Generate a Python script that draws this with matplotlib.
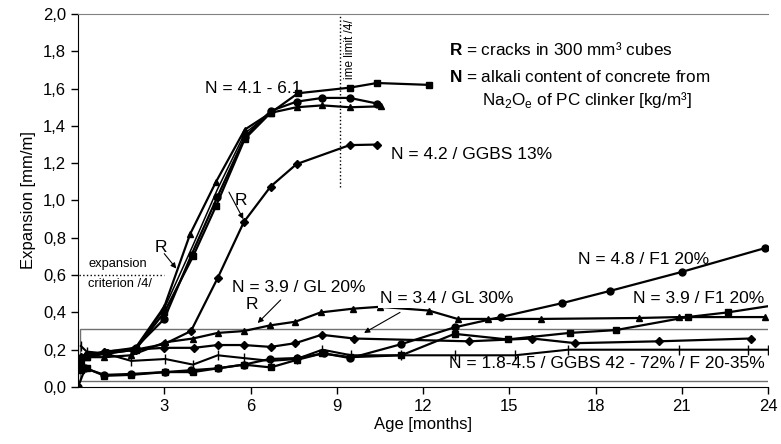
import matplotlib
matplotlib.use("Agg")
import matplotlib.pyplot as plt
from matplotlib.patches import Rectangle
from matplotlib.ticker import FuncFormatter

plt.rcParams['font.family'] = ['Liberation Sans', 'DejaVu Sans']
plt.rcParams['mathtext.fontset'] = 'custom'
plt.rcParams['mathtext.rm'] = 'Liberation Sans'
plt.rcParams['mathtext.bf'] = 'Liberation Sans:bold'

# --- upper group: N = 4.1 - 6.1 ---
sq_hi_x = [0.1, 0.3, 1.0, 2.0, 3.0, 4.0, 4.8, 5.8, 6.7, 7.65, 9.45, 10.4, 12.2]
sq_hi_y = [0.12, 0.16, 0.18, 0.20, 0.40, 0.70, 0.97, 1.33, 1.47, 1.575, 1.605, 1.63, 1.62]
ci_hi_x = [0.1, 0.3, 1.0, 2.0, 3.0, 3.95, 4.85, 5.8, 6.7, 7.6, 8.5, 9.45, 10.4]
ci_hi_y = [0.15, 0.17, 0.18, 0.21, 0.365, 0.71, 1.02, 1.34, 1.48, 1.53, 1.55, 1.55, 1.52]
tr_hi_x = [0.1, 0.3, 1.0, 2.0, 3.0, 3.9, 4.8, 5.8, 6.7, 7.6, 8.5, 9.45, 10.55]
tr_hi_y = [0.14, 0.17, 0.19, 0.21, 0.43, 0.82, 1.10, 1.38, 1.47, 1.50, 1.51, 1.50, 1.505]
thin_hi_x = [2.0, 3.0, 4.0, 4.85, 5.8, 6.7]
thin_hi_y = [0.20, 0.42, 0.76, 1.06, 1.36, 1.47]

# N = 4.2 / GGBS 13%
ggbs13_x = [0.1, 0.3, 1.0, 2.0, 3.0, 3.93, 4.86, 5.77, 6.7, 7.6, 9.45, 10.4]
ggbs13_y = [0.15, 0.17, 0.18, 0.20, 0.23, 0.30, 0.585, 0.885, 1.075, 1.195, 1.297, 1.30]

# --- lower group ---
gl20_x = [0.1, 0.3, 0.92, 1.85, 3.04, 4.0, 4.86, 5.77, 6.67, 7.56, 8.44, 9.57, 10.5,
          12.2, 13.2, 14.26, 16.1, 19.5, 20.9, 23.9]
gl20_y = [0.12, 0.16, 0.16, 0.17, 0.24, 0.26, 0.29, 0.30, 0.33, 0.35, 0.40, 0.42, 0.43,
          0.41, 0.365, 0.365, 0.365, 0.37, 0.375, 0.375]
gl30_x = [0.1, 0.3, 0.92, 1.9, 3.0, 4.03, 4.86, 5.77, 6.7, 7.56, 8.47, 9.6,
          13.6, 15.8, 17.3, 20.2, 23.4]
gl30_y = [0.16, 0.17, 0.19, 0.20, 0.21, 0.21, 0.225, 0.225, 0.215, 0.235, 0.28, 0.26,
          0.245, 0.26, 0.235, 0.245, 0.26]
f48_x = [0, 0.25, 0.92, 1.85, 3.04, 3.93, 4.86, 5.77, 6.67, 7.6, 8.55, 9.47,
         11.25, 13.1, 14.7, 16.85, 18.5, 21.0, 23.9]
f48_y = [0.0, 0.10, 0.065, 0.07, 0.08, 0.09, 0.10, 0.12, 0.15, 0.155, 0.18, 0.155,
         0.23, 0.32, 0.375, 0.45, 0.515, 0.617, 0.745]
f39_x = [0.1, 0.3, 0.92, 1.85, 3.04, 4.0, 4.86, 5.77, 6.7, 7.6, 8.5, 9.47,
         11.25, 13.1, 14.94, 17.1, 18.7, 21.2, 22.6, 24.5]
f39_y = [0.09, 0.10, 0.06, 0.065, 0.08, 0.08, 0.10, 0.12, 0.105, 0.145, 0.18, 0.16,
         0.17, 0.285, 0.255, 0.29, 0.305, 0.375, 0.40, 0.445]
low_x = [0.1, 0.3, 0.95, 1.85, 3.04, 4.0, 4.86, 5.77, 6.7, 7.6, 8.5, 9.5,
         11.25, 13.1, 15.2, 17.05, 20.9, 23.3, 24.0]
low_y = [0.22, 0.19, 0.18, 0.14, 0.15, 0.12, 0.17, 0.155, 0.14, 0.15, 0.20, 0.17,
         0.17, 0.17, 0.17, 0.20, 0.20, 0.20, 0.20]

y_ticks = [0.0, 0.2, 0.4, 0.6, 0.8, 1.0, 1.2, 1.4, 1.6, 1.8, 2.0]
x_ticks = [3, 6, 9, 12, 15, 18, 21, 24]

fig = plt.figure(figsize=(7.81, 4.44), dpi=100)
ax = fig.add_axes([78 / 781, 1 - 387 / 444, 690 / 781, 373 / 444])
ax.set_xlim(0, 24)
ax.set_ylim(0, 2.0)

# box around low-expansion group
ax.add_patch(Rectangle((0.07, 0.03), 25, 0.28, fill=False, edgecolor='#707070', lw=1.0,
                       zorder=1, clip_on=True))

kw = dict(color='black', lw=1.6, ms=5, zorder=3)
ax.plot(sq_hi_x, sq_hi_y, marker='s', **kw)
ax.plot(ci_hi_x, ci_hi_y, marker='o', **kw)
ax.plot(tr_hi_x, tr_hi_y, marker='^', **kw)
ax.plot(thin_hi_x, thin_hi_y, color='black', lw=1.1, zorder=3)
ax.plot(ggbs13_x, ggbs13_y, marker='D', color='black', lw=1.6, ms=4.2, zorder=3)
ax.plot(gl20_x, gl20_y, marker='^', **kw)
ax.plot(gl30_x, gl30_y, marker='D', color='black', lw=1.6, ms=4.2, zorder=3)
ax.plot(f48_x, f48_y, marker='o', **kw)
ax.plot(f39_x, f39_y, marker='s', **kw)
ax.plot(low_x, low_y, marker='|', color='black', lw=1.5, ms=7, mew=1.0, zorder=3)

# limits
ax.plot([9.1, 9.1], [1.07, 2.0], color='black', lw=1.0, ls=':')
ax.text(9.25, 1.97, 'ime limit /4/', rotation=90, ha='left', va='top', fontsize=8.5)
ax.plot([0.05, 3.0], [0.6, 0.6], color='black', lw=1.0, ls=':')
ax.text(0.35, 0.625, 'expansion', fontsize=9.3, va='bottom')
ax.text(0.35, 0.585, 'criterion /4/', fontsize=9.3, va='top')

lab = 12.5
ax.text(6.1, 1.60, 'N = 4.1 - 6.1', fontsize=lab, ha='center', va='center')
ax.text(10.9, 1.245, 'N = 4.2 / GGBS 13%', fontsize=lab, va='center')
ax.text(5.35, 0.535, 'N = 3.9 / GL 20%', fontsize=lab, va='center')
ax.text(10.5, 0.477, 'N = 3.4 / GL 30%', fontsize=lab, va='center', zorder=4,
        bbox=dict(facecolor='white', edgecolor='none', pad=1.5))
ax.text(17.4, 0.686, 'N = 4.8 / F1 20%', fontsize=lab, va='center')
ax.text(19.3, 0.477, 'N = 3.9 / F1 20%', fontsize=lab, va='center')
ax.text(12.9, 0.128, 'N = 1.8-4.5 / GGBS 42 - 72% / F 20-35%', fontsize=lab, va='center')

ax.text(12.9, 1.807, r'$\mathbf{R}$ = cracks in 300 mm³ cubes', fontsize=12.3, va='center')
ax.text(12.9, 1.66, r'$\mathbf{N}$ = alkali content of concrete from', fontsize=12.3, va='center')
ax.text(14.05, 1.54, r'Na$_\mathrm{2}$O$_\mathrm{e}$ of PC clinker [kg/m³]', fontsize=12.3, va='center')

ap = dict(arrowstyle='-|>', color='black', lw=0.8, mutation_scale=8, shrinkA=0, shrinkB=0)
ax.text(2.87, 0.75, 'R', fontsize=lab, ha='center', va='center')
ax.annotate('', xy=(3.42, 0.635), xytext=(3.0, 0.715), arrowprops=ap)
ax.text(5.68, 1.0, 'R', fontsize=lab, ha='center', va='center')
ax.annotate('', xy=(5.75, 0.90), xytext=(5.25, 1.045), arrowprops=ap)
ax.text(6.05, 0.44, 'R', fontsize=lab, ha='center', va='center')
ax.annotate('', xy=(6.25, 0.343), xytext=(7.05, 0.467), arrowprops=ap)
ax.annotate('', xy=(9.95, 0.29), xytext=(11.2, 0.40), arrowprops=ap)

ax.set_xticks(x_ticks)
ax.set_yticks(y_ticks)
ax.yaxis.set_major_formatter(FuncFormatter(lambda v, p: f'{v:.1f}'.replace('.', ',')))
ax.tick_params(direction='out', length=5, labelsize=12, width=1.0)
ax.spines['right'].set_visible(False)
ax.spines['top'].set_color('#808080')
ax.set_xlabel('Age [months]', fontsize=12, labelpad=2)
ax.set_ylabel('Expansion [mm/m]', fontsize=12, labelpad=5)

fig.savefig('out.png', dpi=100)
